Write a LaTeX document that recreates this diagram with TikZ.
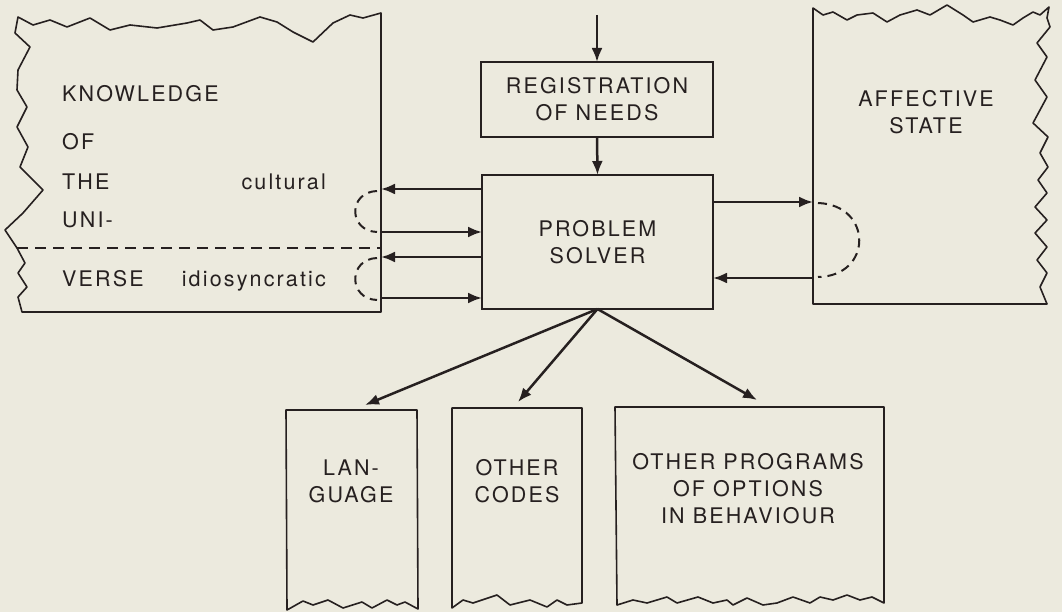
\documentclass[tikz,border=0pt]{standalone}
\usepackage{fontspec}
\setmainfont{TeX Gyre Heros}[LetterSpace=10]
\usepackage{xcolor}
\usetikzlibrary{arrows.meta,positioning,calc}
\definecolor{paper}{RGB}{236,234,222}
\definecolor{ink}{RGB}{38,32,32}

\begin{document}
\begin{tikzpicture}[x=1pt,y=-1pt,
	box/.style={draw=ink,line width=1.7pt,inner sep=0pt,outer sep=0pt,align=center,text=ink},
	lbl/.style={text=ink,align=center,inner sep=0pt},
	torn/.style={draw=ink,line width=1.6pt,line join=round},
	arr/.style={draw=ink,line width=2.5pt,-{Latex[length=14pt,width=11pt]}},
	recur/.style={draw=ink,line width=2pt,dash pattern=on 9pt off 6pt},
	font=\fontsize{21.5}{27}\selectfont]
	\fill[paper](0,0) rectangle (1062,612);
	\useasboundingbox (0,0) rectangle (1062,612);

	% knowledge of the universe (torn sheet)
	\draw[torn](381,13) -- (381,312) -- (22,312)
		-- (18,297) -- (27,287) -- (18,273) -- (25,263) -- (17,248) -- (5,230)
		-- (23,213) -- (43,190) -- (20,167) -- (28,147) -- (17,127) -- (27,107)
		-- (17,90) -- (18,70) -- (30,47) -- (15,33) -- (18,17)
		-- (33,25) -- (50,20) -- (67,27) -- (90,18) -- (110,30) -- (130,25)
		-- (157,28) -- (187,23) -- (200,20) -- (213,30) -- (233,27) -- (260,17)
		-- (277,22) -- (293,32) -- (313,42) -- (333,23) -- (350,15) -- (363,18) -- cycle;
	\draw[draw=ink,line width=1.4pt,dash pattern=on 11pt off 7pt](17,248) -- (381,248);
	\node[lbl,anchor=base west](K1) at (62,102) {KNOWLEDGE};
	\node[lbl,anchor=base west](K2) at (62,150) {OF};
	\node[lbl,anchor=base west](K3) at (62,190) {THE};
	\node[lbl,anchor=base west](K4) at (62,228) {UNI-};
	\node[lbl,anchor=base west](K5) at (62,287) {VERSE};
	\node[lbl,anchor=base east](CU) at (326,190) {cultural};
	\node[lbl,anchor=base east](ID) at (326,287) {idiosyncratic};
	\coordinate(KU) at (381,0);

	% affective state (torn sheet)
	\draw[torn](813,8) -- (813,304) -- (1047,304)
		-- (1040,287) -- (1047,273) -- (1037,260) -- (1047,247) -- (1035,233)
		-- (1047,220) -- (1035,207) -- (1047,193) -- (1038,180) -- (1048,167)
		-- (1040,153) -- (1048,137) -- (1033,123) -- (1047,97) -- (1035,80)
		-- (1047,57) -- (1037,43) -- (1050,27) -- (1047,18) -- (1049,7)
		-- (1040,15) -- (1033,12) -- (1023,18) -- (1013,25) -- (1000,20)
		-- (990,17) -- (973,22) -- (963,15) -- (947,5) -- (930,15) -- (917,10)
		-- (900,15) -- (887,22) -- (873,13) -- (857,15) -- (847,20) -- (833,12)
		-- (823,15) -- cycle;
	\node[lbl](AS) at (926,112) {AFFECTIVE\\STATE};
	\coordinate(AL) at (813,0);

	% central boxes
	\node[box,minimum width=232pt,minimum height=75pt](RN) at (597,99.5) {REGISTRATION\\OF NEEDS};
	\node[box,minimum width=231pt,minimum height=134pt](PS) at (597.5,242) {PROBLEM\\SOLVER};
	\coordinate(IN) at (RN.north |- 0,15);

	% output sheets
	\draw[torn](418,609) -- (417,410) -- (286,410) -- (287,610)
		-- (303,601) -- (313,605) -- (328,600) -- (343,608) -- (362,602)
		-- (372,608) -- (387,600) -- (397,605) -- (405,602) -- cycle;
	\node[lbl](LA) at (351,481) {LAN-\\GUAGE};
	\draw[torn](582,603) -- (582,408) -- (452,408) -- (452,608)
		-- (463,600) -- (473,603) -- (497,595) -- (510,605) -- (530,600)
		-- (547,607) -- (557,600) -- (567,605) -- cycle;
	\node[lbl](OC) at (517,481) {OTHER\\CODES};
	\draw[torn](884,603) -- (884,407) -- (615,407) -- (617,605)
		-- (633,600) -- (647,603) -- (667,597) -- (677,603) -- (698,597)
		-- (713,603) -- (727,600) -- (733,605) -- (747,598) -- (763,605)
		-- (777,603) -- (793,597) -- (810,603) -- (820,597) -- (833,600)
		-- (847,595) -- (860,600) -- (872,597) -- cycle;
	\node[lbl](OP) at (748,489) {OTHER PROGRAMS\\OF OPTIONS\\IN BEHAVIOUR};
	\coordinate(LAt) at (365,405);
	\coordinate(OCt) at (518,402);
	\coordinate(OPt) at (757,400);

	% connections
	\draw[arr](IN) -- (RN.north);
	\draw[arr](RN.south) -- (PS.north);
	\draw[arr](PS.west |- 0,189) -- (KU |- 0,189);
	\draw[arr](KU |- 0,232) -- (PS.west |- 0,232);
	\draw[arr](PS.west |- 0,257) -- (KU |- 0,257);
	\draw[arr](KU |- 0,298) -- (PS.west |- 0,298);
	\draw[arr](PS.east |- 0,202) -- (AL |- 0,202);
	\draw[arr](AL |- 0,278) -- (PS.east |- 0,278);
	\draw[arr](PS.south) -- (LAt);
	\draw[arr](PS.south) -- (OCt);
	\draw[arr](PS.south) -- (OPt);

	% feedback loops
	\draw[recur](377,191) .. controls (348,192) and (348,231) .. (377,232);
	\draw[recur](377,258) .. controls (348,259) and (348,299) .. (377,300);
	\draw[recur](818,203) .. controls (873,205) and (873,276) .. (818,277);
\end{tikzpicture}
\end{document}
